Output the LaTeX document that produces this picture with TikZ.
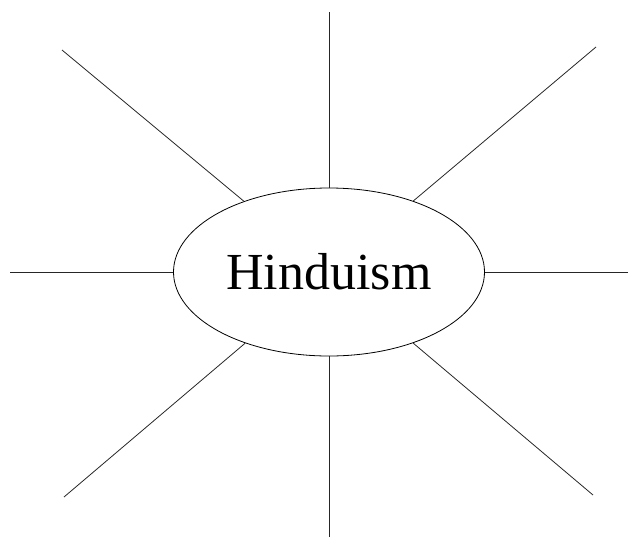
\documentclass[tikz,border=0pt]{standalone}
\usepackage{fontspec}
\setmainfont{Liberation Serif}
\usetikzlibrary{shapes.geometric}
\begin{document}
\begin{tikzpicture}[x=1pt,y=-1pt,
  spoke/.style={line width=0.8pt,draw=black!85}]
\useasboundingbox (0,0) rectangle (640,552);
\node[ellipse,draw,line width=0.8pt,minimum width=311pt,minimum height=168pt,inner sep=0pt]
  (e) at (329,272) {\fontsize{52}{56}\selectfont Hinduism};
\coordinate (t) at (329,12);
\coordinate (b) at (329,537);
\coordinate (l) at (10,272);
\coordinate (r) at (628,272);
\coordinate (ul) at (62,50);
\coordinate (ur) at (596,47);
\coordinate (ll) at (64,497);
\coordinate (lr) at (593,495);
\draw[spoke] (t) -- (e);
\draw[spoke] (b) -- (e);
\draw[spoke] (l) -- (e);
\draw[spoke] (r) -- (e);
\draw[spoke] (ul) -- (e);
\draw[spoke] (ur) -- (e);
\draw[spoke] (ll) -- (e);
\draw[spoke] (lr) -- (e);
\end{tikzpicture}
\end{document}
